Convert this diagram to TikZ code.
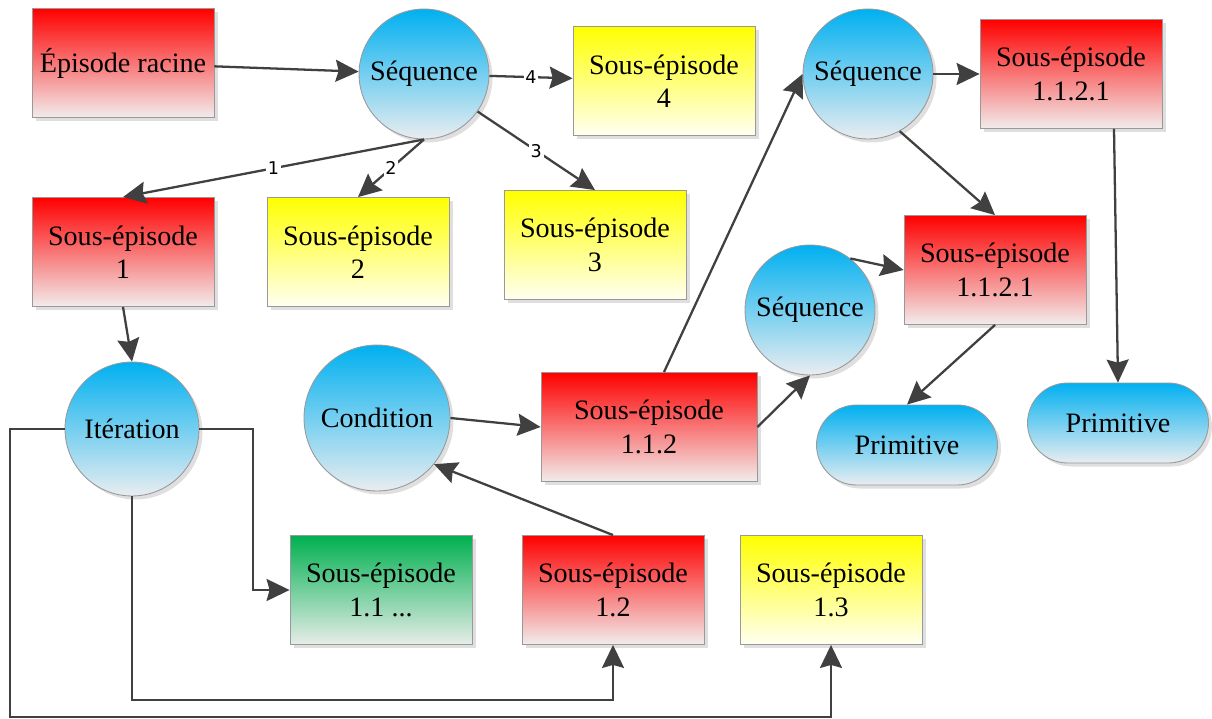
\documentclass[tikz,border=0pt]{standalone}
\usepackage{fontspec}
\setmainfont{Liberation Serif}
\newfontfamily\numfont{DejaVu Sans}
\usetikzlibrary{arrows.meta,shadows}

\definecolor{redtop}{HTML}{FF0000}
\definecolor{redbot}{HTML}{F2ECEC}
\definecolor{yeltop}{HTML}{FFFF00}
\definecolor{yelbot}{HTML}{FFFFF2}
\definecolor{greentop}{HTML}{00B050}
\definecolor{greenbot}{HTML}{E6EDE8}
\definecolor{bluetop}{HTML}{00B0F0}
\definecolor{bluebot}{HTML}{E9EDF0}
\definecolor{edgegray}{HTML}{404040}

\begin{document}
\begin{tikzpicture}[x=0.02cm, y=-0.02cm,
    every node/.style={font=\fontsize{16}{19}\selectfont, align=center},
    base/.style={draw=gray!80, line width=0.5pt,
        drop shadow={shadow xshift=2pt, shadow yshift=-2pt, opacity=0.25, fill=gray}},
    box/.style={base, rectangle, minimum width=3.64cm, minimum height=2.18cm},
    redbox/.style={box, top color=redtop, bottom color=redbot},
    yellowbox/.style={box, top color=yeltop, bottom color=yelbot},
    greenbox/.style={box, top color=greentop, bottom color=greenbot},
    seqnode/.style={base, circle, minimum size=2.6cm, inner sep=0pt, top color=bluetop, bottom color=bluebot},
    primnode/.style={base, rectangle, rounded corners=0.8cm, minimum width=3.62cm, minimum height=1.6cm, top color=bluetop, bottom color=bluebot},
    arr/.style={draw=edgegray, line width=1.3pt, -{Stealth[length=0.46cm, width=0.44cm, inset=0.06cm]}},
    num/.style={fill=white, inner sep=1pt, font=\numfont\fontsize{10}{11}\selectfont}]
    \useasboundingbox (0,0) rectangle (1212,719);

    % top row
    \node[redbox] (racine) at (123,63) {Épisode racine};
    \node[seqnode] (seq1) at (424,74) {Séquence};
    \node[yellowbox] (se4) at (664,81) {Sous-épisode\\4};
    \node[redbox] (se1) at (123,252) {Sous-épisode\\1};
    \node[yellowbox] (se2) at (358,252) {Sous-épisode\\2};
    \node[yellowbox] (se3) at (595,245) {Sous-épisode\\3};

    % right part
    \node[seqnode] (seq2) at (868,74) {Séquence};
    \node[redbox] (se1121a) at (1071,74) {Sous-épisode\\1.1.2.1};
    \node[redbox] (se1121b) at (995,270) {Sous-épisode\\1.1.2.1};
    \node[seqnode] (seq3) at (810,310) {Séquence};
    \node[redbox, minimum width=4.32cm] (se112) at (649,427) {Sous-épisode\\1.1.2};
    \node[primnode] (prim1) at (907,445) {Primitive};
    \node[primnode] (prim2) at (1118,423) {Primitive};

    % lower part
    \node[seqnode, minimum size=2.68cm] (iter) at (132,429) {Itération};
    \node[seqnode, minimum size=2.92cm] (cond) at (377,418) {Condition};
    \node[greenbox] (se11) at (381,590) {Sous-épisode\\1.1 ...};
    \node[redbox] (se12) at (613,590) {Sous-épisode\\1.2};
    \node[yellowbox] (se13) at (831,590) {Sous-épisode\\1.3};

    \draw[arr] (racine) -- (seq1);
    \draw[arr] (seq1) -- node[num] {4} (se4);
    \draw[arr] (seq1.south) -- node[num] {1} (se1.north);
    \draw[arr] (seq1.south) -- node[num] {2} (se2.north);
    \draw[arr] (seq1.-35) -- node[num] {3} (se3.north);
    \draw[arr] (se1.south) -- (iter.north);

    \draw[arr] (iter.west) -| (10,717) -| (se13.south);
    \draw[arr] (iter.south) -- (132,700) -| (se12.south);
    \draw[arr] (iter.east) -- (253,429) |- (se11.west);

    \draw[arr] (cond.east) -- (se112.west);
    \draw[arr] (se12.north) -- (cond.-39);
    \draw[arr] ([xshift=0.3cm]se112.north) -- (seq2.west);
    \draw[arr] (se112.east) -- (seq3.south);
    \draw[arr] (seq3.52) -- (se1121b.west);
    \draw[arr] (seq2.east) -- (se1121a.west);
    \draw[arr] (seq2.-61) -- (se1121b.north);
    \draw[arr] (se1121b.south) -- (prim1.north);
    \draw[arr] ([xshift=0.86cm]se1121a.south) -- (prim2.north);
\end{tikzpicture}
\end{document}
